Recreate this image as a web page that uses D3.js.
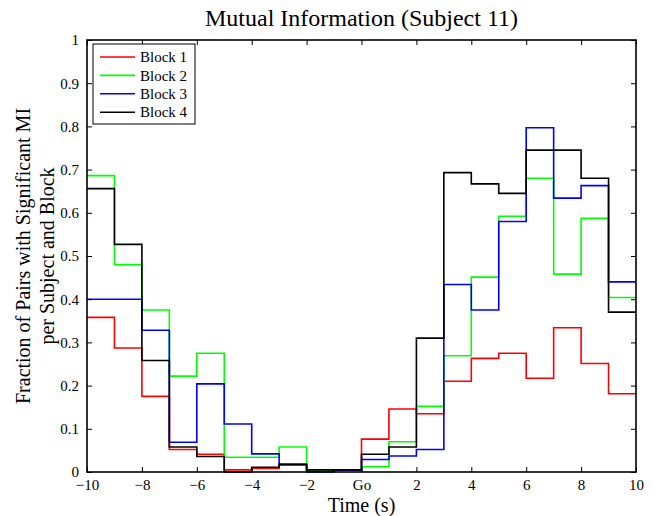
<!DOCTYPE html>
<html>
<head>
<meta charset="utf-8">
<script src="https://cdn.jsdelivr.net/npm/d3@7"></script>
<style>
  html, body { margin: 0; padding: 0; background: #fff; }
  svg { display: block; font-family: "Liberation Serif", "Times New Roman", serif; }
</style>
</head>
<body>
<svg id="chart" width="661" height="516"></svg>
<script>
// ---- data ----
const timeStarts = [-10, -9, -8, -7, -6, -5, -4, -3, -2, -1, 0, 1, 2, 3, 4, 5, 6, 7, 8, 9];
const timeEnd = 10;
const block1 = [0.358, 0.287, 0.175, 0.052, 0.041, 0.005, 0.008, 0.016, 0.005, 0.005, 0.076, 0.146, 0.135, 0.210, 0.263, 0.275, 0.217, 0.334, 0.251, 0.181];
const block2 = [0.686, 0.480, 0.375, 0.222, 0.275, 0.034, 0.034, 0.058, 0.005, 0.005, 0.012, 0.070, 0.152, 0.269, 0.451, 0.592, 0.680, 0.458, 0.587, 0.404];
const block3 = [0.400, 0.400, 0.328, 0.069, 0.204, 0.111, 0.042, 0.018, 0.000, 0.005, 0.029, 0.037, 0.052, 0.434, 0.375, 0.580, 0.797, 0.634, 0.663, 0.440];
const block4 = [0.656, 0.527, 0.258, 0.058, 0.036, 0.000, 0.011, 0.018, 0.005, 0.005, 0.041, 0.058, 0.310, 0.693, 0.667, 0.645, 0.745, 0.745, 0.680, 0.370];
const seriesNames = ["Block 1", "Block 2", "Block 3", "Block 4"];
const seriesColors = ["#ff0000", "#00ff00", "#0000ff", "#000000"];
const xTickValues = [-10, -8, -6, -4, -2, 0, 2, 4, 6, 8, 10];
const xTickLabels = ["\u221210", "\u22128", "\u22126", "\u22124", "\u22122", "Go", "2", "4", "6", "8", "10"];
const yTickValues = [0, 0.1, 0.2, 0.3, 0.4, 0.5, 0.6, 0.7, 0.8, 0.9, 1];
const yTickLabels = ["0", "0.1", "0.2", "0.3", "0.4", "0.5", "0.6", "0.7", "0.8", "0.9", "1"];
const titleText = "Mutual Information (Subject 11)";
const xLabelText = "Time (s)";
const yLabelLines = ["Fraction of Pairs with Significant MI", "per Subject and Block"];

// ---- layout ----
const svg = d3.select("#chart");
const L = 87, R = 636, T = 40, B = 472;
const x = d3.scaleLinear().domain([-10, 10]).range([L, R]);
const y = d3.scaleLinear().domain([0, 1]).range([B, T]);
const tickLen = 5;

// series lines
const allSeries = [block1, block2, block3, block4];
const line = d3.line().x(d => x(d[0])).y(d => y(d[1])).curve(d3.curveStepAfter);
allSeries.forEach((vals, i) => {
  const pts = timeStarts.map((t, k) => [t, vals[k]]);
  pts.push([timeEnd, vals[vals.length - 1]]);
  svg.append("path")
    .attr("d", line(pts))
    .attr("fill", "none")
    .attr("stroke", seriesColors[i])
    .attr("stroke-width", 1.6)
    .attr("stroke-linejoin", "miter");
});

// axes (ticks inward, all four sides)
const fmtX = (d) => xTickLabels[xTickValues.indexOf(d)];
const fmtY = (d) => yTickLabels[yTickValues.findIndex(v => Math.abs(v - d) < 1e-9)];

const xAxisB = d3.axisBottom(x).tickValues(xTickValues).tickSizeInner(-tickLen).tickSizeOuter(0).tickPadding(7).tickFormat(fmtX);
const gxb = svg.append("g").attr("transform", `translate(0,${B})`).call(xAxisB);
const xAxisT = d3.axisTop(x).tickValues(xTickValues).tickSizeInner(-tickLen).tickSizeOuter(0).tickFormat("");
const gxt = svg.append("g").attr("transform", `translate(0,${T})`).call(xAxisT);
const yAxisL = d3.axisLeft(y).tickValues(yTickValues).tickSizeInner(-tickLen).tickSizeOuter(0).tickPadding(8).tickFormat(fmtY);
const gyl = svg.append("g").attr("transform", `translate(${L},0)`).call(yAxisL);
const yAxisR = d3.axisRight(y).tickValues(yTickValues).tickSizeInner(-tickLen).tickSizeOuter(0).tickFormat("");
const gyr = svg.append("g").attr("transform", `translate(${R},0)`).call(yAxisR);

[gxb, gxt, gyl, gyr].forEach(g => {
  g.select(".domain").remove();
  g.selectAll(".tick line").attr("stroke", "#000").attr("stroke-width", 1);
  g.selectAll(".tick text").attr("font-family", "Liberation Serif, serif").attr("font-size", 15).attr("fill", "#000");
});
gxb.selectAll(".tick text").attr("dy", "0.71em");
gyl.selectAll(".tick text").attr("dy", "0.32em");

// frame
svg.append("rect").attr("x", L).attr("y", T).attr("width", R - L).attr("height", B - T)
  .attr("fill", "none").attr("stroke", "#000").attr("stroke-width", 1.6);

// title
svg.append("text").attr("x", (L + R) / 2).attr("y", 26).attr("text-anchor", "middle")
  .attr("font-size", 24).attr("fill", "#000").text(titleText);

// x label
svg.append("text").attr("x", (L + R) / 2).attr("y", 511.5).attr("text-anchor", "middle")
  .attr("font-size", 20).attr("fill", "#000").text(xLabelText);

// y label (two lines, rotated)
const ylab = svg.append("text").attr("transform", `translate(30,${(T + B) / 2}) rotate(-90)`)
  .attr("text-anchor", "middle").attr("font-size", 20).attr("fill", "#000");
yLabelLines.forEach((s, i) => {
  ylab.append("tspan").attr("x", 0).attr("dy", i === 0 ? 0 : 24).text(s);
});

// legend
const lg = svg.append("g");
lg.append("rect").attr("x", 93).attr("y", 44).attr("width", 102).attr("height", 80)
  .attr("fill", "#fff").attr("stroke", "#000").attr("stroke-width", 1);
seriesNames.forEach((name, i) => {
  const yy = 57 + i * 18.4;
  lg.append("line").attr("x1", 100).attr("x2", 135).attr("y1", yy).attr("y2", yy)
    .attr("stroke", seriesColors[i]).attr("stroke-width", 1.6);
  lg.append("text").attr("x", 140).attr("y", yy).attr("dy", "0.35em")
    .attr("font-size", 15).attr("fill", "#000").text(name);
});
</script>
</body>
</html>
